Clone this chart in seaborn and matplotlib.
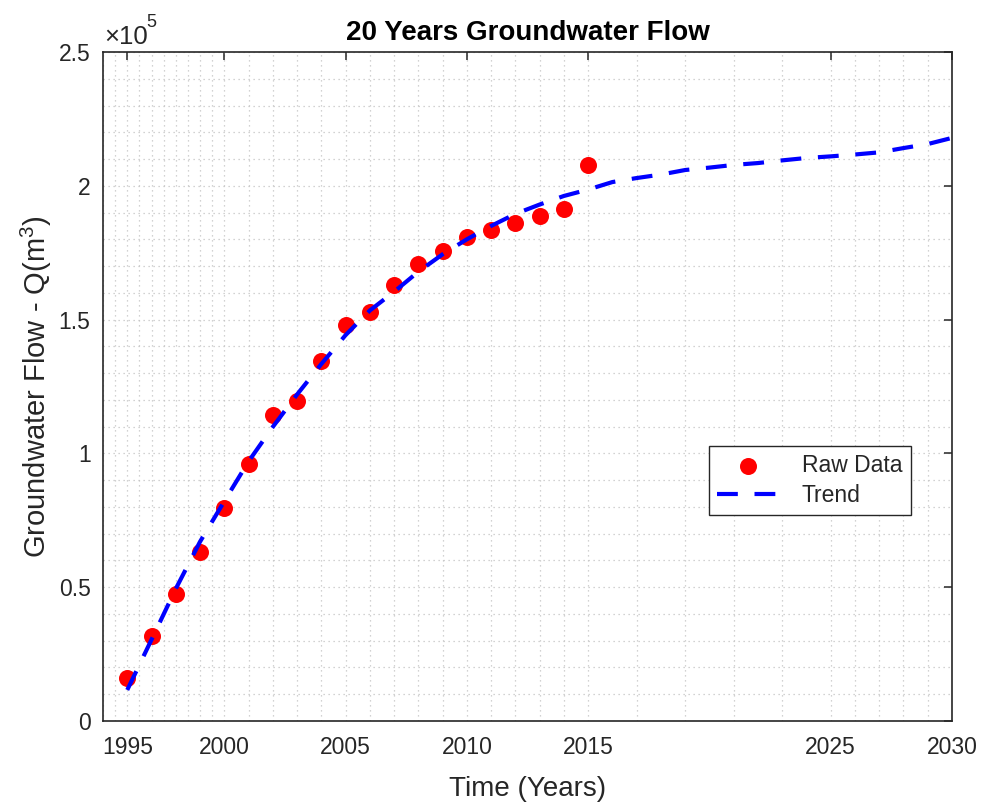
import numpy as np
import pandas as pd
import matplotlib
matplotlib.use("Agg")
import matplotlib.pyplot as plt
import seaborn as sns
from matplotlib.ticker import FixedLocator, MultipleLocator, FuncFormatter

# ---- data ----
raw_years = [1996, 1997, 1998, 1999, 2000, 2001, 2002, 2003, 2004, 2005,
             2006, 2007, 2008, 2009, 2010, 2011, 2012, 2013, 2014, 2015]
raw_flow = [16000, 31600, 47300, 63000, 79500, 96000, 114400, 119500, 134700, 148100,
            152700, 162900, 170800, 175700, 180800, 183500, 186000, 188800, 191200, 207800]

trend_years = [1996, 1997, 1998, 1999, 2000, 2001, 2002, 2003, 2004, 2005,
               2006, 2007, 2008, 2009, 2010, 2011, 2012, 2013, 2014, 2015,
               2016, 2017, 2018, 2019, 2020, 2021, 2022, 2023, 2024, 2025,
               2026, 2027, 2028, 2029, 2030]
trend_flow = [11600, 30400, 49400, 67000, 82100, 97000, 109900, 122000, 133400, 144200,
              153400, 160400, 167900, 174400, 180000, 185000, 189500, 193000, 196200, 198600,
              201400, 202900, 204200, 205900, 206800, 207800, 208500, 209500, 210400, 211000,
              211700, 212500, 214100, 215600, 217900]

x_tick_pos = [1996, 2000, 2005, 2010, 2015, 2025, 2030]
x_tick_labels = ['1995', '2000', '2005', '2010', '2015', '2025', '2030']

sns.set_theme(style="white")
plt.rcParams.update({
    "font.family": ["Liberation Sans", "DejaVu Sans"],
    "mathtext.fontset": "custom",
    "mathtext.rm": "Liberation Sans",
    "mathtext.it": "Liberation Sans:italic",
    "mathtext.bf": "Liberation Sans:bold",
    "lines.dashed_pattern": [5.0, 4.0],
})

fig = plt.figure(figsize=(9.85, 8.05), dpi=100)
ax = fig.add_axes([103 / 985, 1 - 721 / 805, (952 - 103) / 985, (721 - 52) / 805])

df_raw = pd.DataFrame({"Year": raw_years, "Flow": raw_flow})
df_trend = pd.DataFrame({"Year": trend_years, "Flow": trend_flow})

sns.scatterplot(data=df_raw, x="Year", y="Flow", ax=ax, color="#ff0000", s=150,
                linewidth=0, label="Raw Data", zorder=3)
sns.lineplot(data=df_trend, x="Year", y="Flow", ax=ax, color="#0000ff", linewidth=3,
             linestyle="--", label="Trend", zorder=4)

ax.set_xlim(1995, 2030)
ax.set_ylim(0, 250000)
ax.xaxis.set_major_locator(FixedLocator(x_tick_pos))
ax.set_xticklabels(x_tick_labels)
minor_x = np.concatenate([np.arange(1995, 2000, 0.5), np.arange(2000, 2015, 1.0),
                          np.arange(2015, 2025, 2.0), np.arange(2025, 2031, 1.0)])
ax.xaxis.set_minor_locator(FixedLocator(minor_x))
ax.yaxis.set_major_locator(MultipleLocator(50000))
ax.yaxis.set_minor_locator(MultipleLocator(10000))
ax.yaxis.set_major_formatter(FuncFormatter(lambda v, p: f"{v / 1e5:g}"))

ax.grid(which="both", color="#c4c4c4", linestyle=(0, (1, 3)), linewidth=0.9)
ax.set_axisbelow(True)
ax.tick_params(which="major", direction="in", length=6, width=1.1, top=True, right=True,
               labelsize=16.5, color="#262626", labelcolor="#262626", pad=9)
ax.tick_params(axis="x", which="major", pad=11)
ax.tick_params(which="minor", length=0)
for sp in ax.spines.values():
    sp.set_visible(True)
    sp.set_color("#262626")
    sp.set_linewidth(1.2)

ax.set_title("20 Years Groundwater Flow", fontsize=20, fontweight="bold", pad=9, color="black")
ax.set_xlabel("Time (Years)", fontsize=20, color="#262626", labelpad=12)
ax.set_ylabel("Groundwater Flow - Q(m$^{3}$)", fontsize=21, color="#262626", labelpad=3)
ax.text(0.002, 1.004, "\u00d710", transform=ax.transAxes, fontsize=18.5,
        ha="left", va="bottom", color="#262626")
ax.text(0.0515, 1.031, "5", transform=ax.transAxes, fontsize=13,
        ha="left", va="bottom", color="#262626")

leg = ax.legend(loc="upper left", bbox_to_anchor=(0.714, 0.411), borderaxespad=0,
                fontsize=16.5, frameon=True, fancybox=False, framealpha=1,
                edgecolor="#262626", handlelength=2.7, handletextpad=1.0,
                labelspacing=0.3, borderpad=0.35, markerscale=1.0)
leg.get_frame().set_linewidth(1.0)

fig.savefig("out.png", dpi=100)
